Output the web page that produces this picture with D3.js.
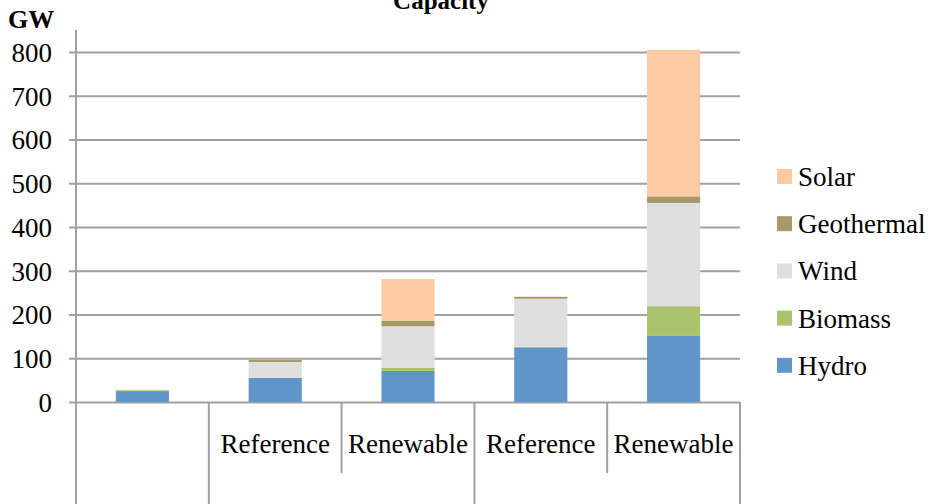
<!DOCTYPE html>
<html>
<head>
<meta charset="utf-8">
<script src="https://cdn.jsdelivr.net/npm/d3@7"></script>
<style>
  body { margin: 0; background: #fff; }
  svg text { font-family: "Liberation Serif", "Times New Roman", serif; fill: #000; }
</style>
</head>
<body>
<div id="container"></div>
<script>
// chart data (GW)
const categories = ["", "Reference", "Renewable", "Reference", "Renewable"];
const seriesNames = ["Hydro", "Biomass", "Wind", "Geothermal", "Solar"];
const hydro = [25, 55, 71, 125, 151];
const biomass = [2, 0.5, 7, 1, 68];
const wind = [1, 36, 95, 110, 236];
const geothermal = [0, 4.5, 13, 4.5, 15];
const solar = [0, 0, 95, 0, 335];
const yTicks = [0, 100, 200, 300, 400, 500, 600, 700, 800];

const colors = {
    "Hydro": "#6096c9",
    "Biomass": "#aac46d",
    "Wind": "#dfdfdf",
    "Geothermal": "#a69868",
    "Solar": "#fbcaa2"
};

const width = 931, height = 504;
const plotLeft = 76, plotRight = 740, plotTop = 52, plotBottom = 402;

// build rows for the stack
const rows = categories.map(function (c, i) {
    return {
        idx: i,
        cat: c,
        Hydro: hydro[i],
        Biomass: biomass[i],
        Wind: wind[i],
        Geothermal: geothermal[i],
        Solar: solar[i]
    };
});

const svg = d3.select("#container").append("svg")
    .attr("width", width)
    .attr("height", height);

const xScale = d3.scaleBand()
    .domain(rows.map(d => d.idx))
    .range([plotLeft, plotRight])
    .paddingInner(0.6)
    .paddingOuter(0.3);

const yScale = d3.scaleLinear()
    .domain([0, 800])
    .range([plotBottom, plotTop]);

// gridlines + y axis
const yAxis = d3.axisLeft(yScale)
    .tickValues(yTicks)
    .tickSize(-(plotRight - plotLeft))
    .tickPadding(24)
    .tickFormat(d3.format("d"));

const gy = svg.append("g")
    .attr("transform", "translate(" + plotLeft + ",0)")
    .call(yAxis);
gy.select(".domain").remove();
gy.selectAll(".tick line")
    .attr("x1", -7)
    .attr("stroke", "#a0a0a0")
    .attr("stroke-width", 2);
gy.selectAll(".tick text")
    .style("font-size", "27px")
    .attr("dy", "0.35em");

// vertical axis line
svg.append("line")
    .attr("x1", plotLeft).attr("x2", plotLeft)
    .attr("y1", 30).attr("y2", height)
    .attr("stroke", "#a0a0a0")
    .attr("stroke-width", 2);

// stacked bars
const stack = d3.stack().keys(seriesNames);
const layers = stack(rows);

svg.append("g")
    .selectAll("g")
    .data(layers)
    .join("g")
        .attr("fill", d => colors[d.key])
    .selectAll("rect")
    .data(d => d)
    .join("rect")
        .attr("x", d => xScale(d.data.idx))
        .attr("width", xScale.bandwidth())
        .attr("y", d => yScale(d[1]))
        .attr("height", d => Math.max(0, yScale(d[0]) - yScale(d[1])));

// category axis: boundaries between categories
const step = xScale.step();
const boundaries = d3.range(categories.length + 1).map(i => plotLeft + i * step);
svg.append("g")
    .selectAll("line")
    .data(boundaries)
    .join("line")
        .attr("x1", d => d).attr("x2", d => d)
        .attr("y1", plotBottom)
        .attr("y2", (d, i) => (i === 2 || i === 4) ? 473 : height)
        .attr("stroke", "#a0a0a0")
        .attr("stroke-width", 2);

svg.append("g")
    .selectAll("text")
    .data(rows)
    .join("text")
        .attr("x", d => xScale(d.idx) + xScale.bandwidth() / 2)
        .attr("y", 453)
        .attr("text-anchor", "middle")
        .style("font-size", "27px")
        .text(d => d.cat);

// title (cut by the top edge, as in the original) and unit label
svg.append("text")
    .attr("x", 441)
    .attr("y", 9)
    .attr("text-anchor", "middle")
    .style("font-size", "25px")
    .style("font-weight", "bold")
    .text("Capacity");

svg.append("text")
    .attr("x", 8)
    .attr("y", 28)
    .style("font-size", "26px")
    .style("font-weight", "bold")
    .text("GW");

// legend (top item is the top of the stack)
const legendItems = seriesNames.slice().reverse();
const legend = svg.append("g")
    .selectAll("g")
    .data(legendItems)
    .join("g")
        .attr("transform", (d, i) => "translate(777," + (169 + i * 47.2) + ")");

legend.append("rect")
    .attr("width", 15)
    .attr("height", 15)
    .attr("fill", d => colors[d]);

legend.append("text")
    .attr("x", 21)
    .attr("y", 17)
    .style("font-size", "27px")
    .text(d => d);
</script>
</body>
</html>
